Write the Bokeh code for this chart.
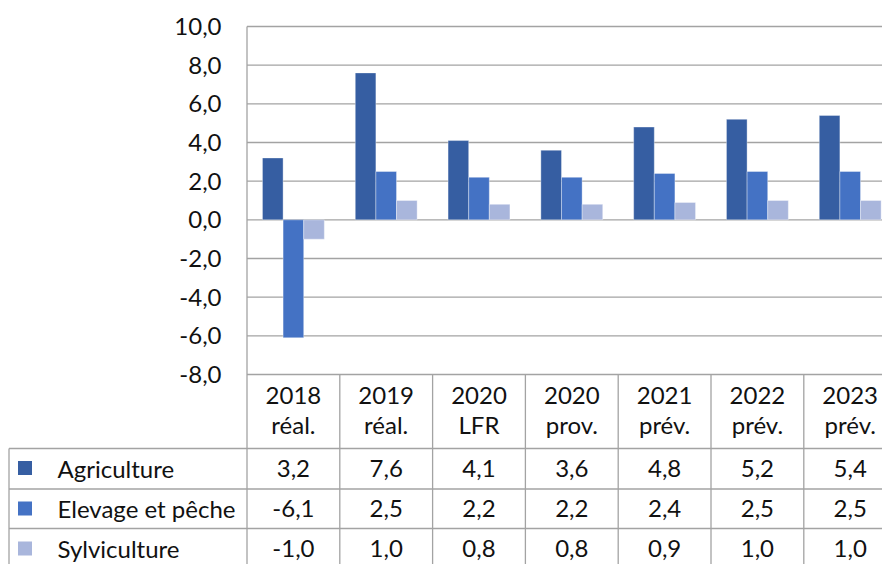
from bokeh.plotting import figure
from bokeh.models import Range1d, ColumnDataSource
from bokeh.embed import file_html
from bokeh.resources import INLINE
from bokeh.core.properties import value

# ---- data ----
categories = ["2018\nréal.", "2019\nréal.", "2020\nLFR", "2020\nprov.",
              "2021\nprév.", "2022\nprév.", "2023\nprév."]
series_names = ["Agriculture", "Elevage et pêche", "Sylviculture"]
agriculture = [3.2, 7.6, 4.1, 3.6, 4.8, 5.2, 5.4]
elevage = [-6.1, 2.5, 2.2, 2.2, 2.4, 2.5, 2.5]
sylviculture = [-1.0, 1.0, 0.8, 0.8, 0.9, 1.0, 1.0]
y_ticks = [-8, -6, -4, -2, 0, 2, 4, 6, 8, 10]
colors = ["#365EA2", "#4472C4", "#A9B6DC"]

# ---- layout constants (canvas pixels) ----
W, H = 882, 564
AXIS_X = 246.5        # canvas x of the value axis
CAT_PX = 92.8         # width of one category
Y_TOP_PX = 26         # canvas y of the top tick (10)
PPU = 348 / 18        # pixels per value unit
FONT = value("Lato")
FS = "24px"
GRID = "#a3a3a3"
TXT = "#111111"

X0 = -AXIS_X / CAT_PX
X1 = X0 + W / CAT_PX
YMAX = max(y_ticks) + Y_TOP_PX / PPU
YMIN = YMAX - H / PPU


def dx(px):
    return X0 + px / CAT_PX


def dy(py):
    return YMAX - py / PPU


p = figure(width=W, height=H, output_backend="svg", toolbar_location=None,
           x_range=Range1d(X0, X1), y_range=Range1d(YMIN, YMAX),
           x_axis_location=None, y_axis_location=None, min_border=0)
p.outline_line_color = None
p.xgrid.grid_line_color = None
p.ygrid.grid_line_color = None

n = len(categories)
x_right = X1

# gridlines (value axis)
p.segment(x0=[0] * len(y_ticks), y0=y_ticks, x1=[x_right] * len(y_ticks), y1=y_ticks,
          line_color=GRID, line_width=1.3)
# value axis line, continuing down through the table
p.segment(x0=[0], y0=[max(y_ticks)], x1=[0], y1=[YMIN], line_color=GRID, line_width=1.3)
# tick labels
tick_labels = [f"{t:.1f}".replace(".", ",") for t in y_ticks]
p.text(x=[dx(221)] * len(y_ticks), y=y_ticks, text=tick_labels,
       text_align="right", text_baseline="middle",
       text_font=FONT, text_font_size=FS, text_color=TXT)

# bars
bw = 1 / 4.5
offsets = [-bw, 0, bw]
for vals, off, col in zip([agriculture, elevage, sylviculture], offsets, colors):
    src = ColumnDataSource(dict(x=[i + 0.5 + off for i in range(n)], top=vals))
    p.vbar(x="x", top="top", bottom=0, width=bw, source=src,
           fill_color=col, line_color="white", line_alpha=0.35, line_width=1)

# ---- data table ----
ymin_tick = min(y_ticks)
hdr_line = dy(448)
row_lines = [dy(448), dy(488.5), dy(528)]
year_mid = dy(395)
status_mid = dy(423.5)
row_mid = [dy(467.5), dy(508), dy(548)]

# column separators in the table
col_x = list(range(1, n + 1))
p.segment(x0=col_x, y0=[ymin_tick] * len(col_x), x1=col_x, y1=[YMIN] * len(col_x),
          line_color=GRID, line_width=1.3)
# left border of the table rows
p.segment(x0=[dx(8.5)], y0=[hdr_line], x1=[dx(8.5)], y1=[YMIN], line_color=GRID, line_width=1.3)
# horizontal row lines
p.segment(x0=[dx(8.5)] * len(row_lines), y0=row_lines, x1=[x_right] * len(row_lines), y1=row_lines,
          line_color=GRID, line_width=1.3)

centers = [i + 0.5 for i in range(n)]
years = [c.split("\n")[0] for c in categories]
status = [c.split("\n")[1] for c in categories]
p.text(x=centers, y=[year_mid] * n, text=years, text_align="center", text_baseline="middle",
       text_font=FONT, text_font_size=FS, text_color=TXT)
p.text(x=centers, y=[status_mid] * n, text=status, text_align="center", text_baseline="middle",
       text_font=FONT, text_font_size=FS, text_color=TXT)

for vals, name, col, ym in zip([agriculture, elevage, sylviculture], series_names, colors, row_mid):
    labels = [f"{v:.1f}".replace(".", ",") for v in vals]
    p.text(x=centers, y=[ym] * n, text=labels, text_align="center", text_baseline="middle",
           text_font=FONT, text_font_size=FS, text_color=TXT)
    p.text(x=[dx(57)], y=[ym], text=[name], text_align="left", text_baseline="middle",
           text_font=FONT, text_font_size=FS, text_color=TXT)
    p.scatter(x=[dx(24.5)], y=[ym], marker="square", size=14, fill_color=col, line_color=None)

open("out.html", "w").write(file_html(p, INLINE))
